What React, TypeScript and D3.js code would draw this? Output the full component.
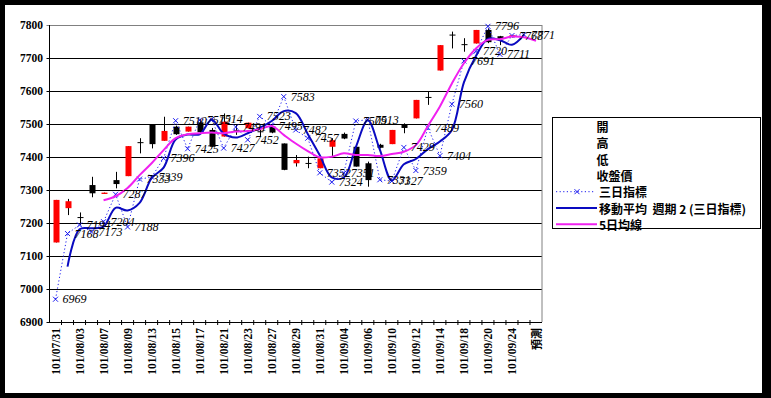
import * as d3 from "d3"

const categories = [
  "101/07/31", "101/08/01", "101/08/03", "101/08/06", "101/08/07", "101/08/08",
  "101/08/09", "101/08/10", "101/08/13", "101/08/14", "101/08/15", "101/08/16",
  "101/08/17", "101/08/20", "101/08/21", "101/08/22", "101/08/23", "101/08/24",
  "101/08/27", "101/08/28", "101/08/29", "101/08/30", "101/08/31", "101/09/03",
  "101/09/04", "101/09/05", "101/09/06", "101/09/07", "101/09/10", "101/09/11",
  "101/09/12", "101/09/13", "101/09/14", "101/09/17", "101/09/18", "101/09/19",
  "101/09/20", "101/09/21", "101/09/24", "101/09/25", "預測",
]

// candles (開 高 低 收盤價)
const opens = [7141, 7245, 7218, 7315, 7288, 7330, 7342, 7445, 7497, 7449, 7492, 7477, 7505, 7482, 7462, 7481, 7487, 7478, 7492, 7441, 7381, 7382, 7366, 7431, 7470, 7431, 7381, 7437, 7439, 7497, 7517, 7582, 7662, 7771, 7742, 7744, 7785, 7766, 7764]
const highs = [7270, 7273, 7232, 7340, 7292, 7355, 7433, 7457, 7500, 7522, 7495, 7492, 7515, 7488, 7532, 7497, 7504, 7492, 7495, 7441, 7406, 7401, 7396, 7457, 7474, 7431, 7386, 7440, 7482, 7502, 7573, 7598, 7739, 7780, 7760, 7785, 7790, 7767, 7770]
const lows = [7141, 7224, 7194, 7278, 7288, 7305, 7342, 7411, 7426, 7449, 7467, 7477, 7472, 7431, 7462, 7467, 7487, 7461, 7472, 7360, 7371, 7366, 7366, 7401, 7454, 7371, 7310, 7426, 7439, 7472, 7517, 7558, 7662, 7729, 7719, 7744, 7745, 7739, 7762]
const closes = [7270, 7266, 7216, 7290, 7292, 7318, 7433, 7443, 7439, 7479, 7469, 7492, 7475, 7431, 7507, 7479, 7504, 7476, 7474, 7361, 7391, 7380, 7396, 7451, 7456, 7371, 7330, 7428, 7482, 7488, 7573, 7580, 7739, 7769, 7740, 7785, 7748, 7757, 7769]

// 三日指標, from index 0
const indicator = [6969, 7168, 7194, 7173, 7204, 7287, 7188, 7333, 7339, 7396, 7510, 7425, 7512, 7514, 7427, 7491, 7452, 7523, 7495, 7583, 7482, 7457, 7352, 7324, 7351, 7509, 7513, 7331, 7327, 7429, 7359, 7489, 7404, 7560, 7691, 7720, 7796, 7711, 7768, 7771]

// 移動平均 週期 2, from index 1
const ma2 = [7068, 7181, 7184, 7189, 7246, 7238, 7261, 7336, 7368, 7453, 7468, 7469, 7513, 7471, 7459, 7472, 7488, 7509, 7539, 7533, 7470, 7405, 7338, 7338, 7430, 7511, 7422, 7329, 7378, 7394, 7424, 7447, 7482, 7626, 7706, 7758, 7754, 7740, 7770]

// 5日均線, from index 4
const ma5 = [7269, 7281, 7306, 7345, 7381, 7421, 7457, 7469, 7472, 7474, 7472, 7477, 7479, 7484, 7494, 7467, 7441, 7418, 7399, 7401, 7411, 7406, 7406, 7403, 7409, 7416, 7436, 7494, 7553, 7623, 7684, 7729, 7755, 7757, 7765, 7763, 7752]

const yTicks = [6900, 7000, 7100, 7200, 7300, 7400, 7500, 7600, 7700, 7800]

const legendItems = ["開", "高", "低", "收盤價", "三日指標", "移動平均\u00a0\u00a0週期 2 (三日指標)", "5日均線"]

const RED = "#ff0000"
const BLUE_DOT = "#1c1cf0"
const BLUE = "#0a0ac0"
const MAGENTA = "#f020f0"
const SERIF = "'Liberation Serif', 'DejaVu Serif', serif"
const CJK = "'Noto Sans CJK TC', 'Noto Sans CJK JP', sans-serif"

export default function App() {
  const left = 49.5
  const right = 542
  const top = 25
  const bottom = 322

  const x = d3.scaleBand<string>().domain(categories).range([left, right]).padding(0)
  const bw = x.bandwidth()
  const cx = (i: number) => x(categories[i])! + bw / 2
  const y = d3.scaleLinear().domain([6900, 7800]).range([bottom, top])

  const line = d3
    .line<[number, number]>()
    .x((d) => cx(d[0]))
    .y((d) => y(d[1]))
  const smooth = d3
    .line<[number, number]>()
    .x((d) => cx(d[0]))
    .y((d) => y(d[1]))
    .curve(d3.curveCatmullRom.alpha(0.5))

  const indPts = indicator.map((v, i) => [i, v] as [number, number])
  const ma2Pts = ma2.map((v, i) => [i + 1, v] as [number, number])
  const ma5Pts = ma5.map((v, i) => [i + 4, v] as [number, number])

  const cross = (px: number, py: number, key: string | number, color = BLUE_DOT) => (
    <path
      key={key}
      d={`M${px - 2.5},${py - 2.5}L${px + 2.5},${py + 2.5}M${px - 2.5},${py + 2.5}L${px + 2.5},${py - 2.5}`}
      stroke={color}
      strokeWidth={1}
      fill="none"
    />
  )

  const lgX = 552.5
  const lgY = 117.5
  const rowH = 16.3

  return (
    <svg
      width={771}
      height={398}
      style={{ position: "absolute", left: 0, top: 0, display: "block" }}
    >
      <rect x={0} y={0} width={771} height={398} fill="#000" />
      <rect x={5} y={5} width={757} height={388} fill="#fff" />

      {/* grid */}
      {yTicks.map((t) => (
        <line
          key={t}
          x1={left - 3}
          x2={right}
          y1={Math.round(y(t)) + 0.5}
          y2={Math.round(y(t)) + 0.5}
          stroke={t === 7800 ? "#808080" : "#000"}
          strokeWidth={1}
        />
      ))}
      <line x1={right} x2={right} y1={top} y2={bottom} stroke="#808080" />
      <line x1={left} x2={left} y1={top} y2={bottom + 0.5} stroke="#000" />
      {categories.map((c, i) => (
        <line
          key={c}
          x1={x(c)! + bw}
          x2={x(c)! + bw}
          y1={bottom - 2}
          y2={bottom + 3}
          stroke="#000"
          opacity={i === categories.length - 1 ? 0 : 1}
        />
      ))}

      {/* y labels */}
      {yTicks.map((t) => (
        <text
          key={t}
          x={43}
          y={y(t)}
          textAnchor="end"
          dominantBaseline="central"
          fontFamily={SERIF}
          fontWeight="bold"
          fontSize={11.5}
        >
          {t}
        </text>
      ))}

      {/* x labels */}
      {categories.map((c, i) =>
        i % 2 === 0 ? (
          <text
            key={c}
            transform={`translate(${cx(i)},${328}) rotate(-90)`}
            textAnchor="end"
            dominantBaseline="central"
            fontFamily={c === "預測" ? CJK : SERIF}
            fontWeight="bold"
            fontSize={c === "預測" ? 11 : 11.5}
          >
            {c}
          </text>
        ) : null
      )}

      {/* candles */}
      {opens.map((o, i) => {
        const c = closes[i]
        const up = c > o
        const yTop = y(Math.max(o, c))
        const yBot = y(Math.min(o, c))
        const h = Math.max(1, yBot - yTop)
        return (
          <g key={i}>
            <line
              x1={Math.round(cx(i)) + 0.5}
              x2={Math.round(cx(i)) + 0.5}
              y1={y(highs[i])}
              y2={y(lows[i])}
              stroke="#000"
            />
            <rect
              x={Math.round(cx(i)) - 2.5}
              y={yTop}
              width={6}
              height={h}
              fill={up ? RED : "#000"}
            />
          </g>
        )
      })}

      {/* 三日指標 */}
      <path d={line(indPts)!} fill="none" stroke={BLUE_DOT} strokeWidth={1} strokeDasharray="1.2,2.4" />
      {indPts.map((d, i) => cross(cx(d[0]), y(d[1]), i))}

      {/* moving average */}
      <path d={smooth(ma2Pts)!} fill="none" stroke={BLUE} strokeWidth={2} />
      {/* 5日均線 */}
      <path d={smooth(ma5Pts)!} fill="none" stroke={MAGENTA} strokeWidth={2} />

      {/* data labels */}
      {indPts.map((d, i) => (
        <text
          key={i}
          x={cx(d[0]) + 7}
          y={y(d[1])}
          dominantBaseline="central"
          fontFamily={SERIF}
          fontStyle="italic"
          fontSize={12}
          fill="#000"
        >
          {d[1]}
        </text>
      ))}

      {/* legend */}
      <rect x={lgX} y={lgY} width={208} height={111} fill="#fff" stroke="#000" strokeWidth={1} />
      {legendItems.map((name, i) => {
        const ry = lgY + 9 + i * rowH
        return (
          <g key={name}>
            {i === 4 && (
              <>
                <line x1={556} x2={595} y1={ry} y2={ry} stroke={BLUE_DOT} strokeDasharray="1.2,2.4" />
                {cross(577, ry, "lg")}
              </>
            )}
            {i === 5 && <line x1={556} x2={597} y1={ry} y2={ry} stroke={BLUE} strokeWidth={2} />}
            {i === 6 && <line x1={556} x2={597} y1={ry} y2={ry} stroke={MAGENTA} strokeWidth={2} />}
            <text
              x={i < 4 ? 596.5 : 599}
              y={ry}
              dominantBaseline="central"
              fontFamily={CJK}
              fontWeight="bold"
              fontSize={12}
              fill="#000"
            >
              {name}
            </text>
          </g>
        )
      })}
    </svg>
  )
}
